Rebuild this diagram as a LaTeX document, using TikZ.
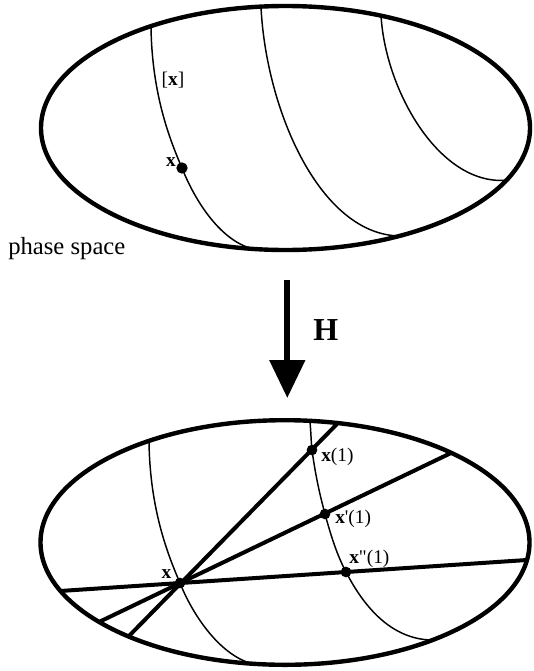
\documentclass[tikz,border=0pt]{standalone}
\usepackage{fontspec}
\setmainfont{Liberation Serif}
\usetikzlibrary{arrows.meta}

\tikzset{
  rim/.style={line width=3.3pt},
  fibre/.style={line width=1.1pt},
  chord/.style={line width=3pt},
  dot/.style={circle, fill=black, inner sep=0pt, minimum size=8pt},
  lbl/.style={font=\fontsize{14.5}{16}\selectfont, inner sep=0pt}
}

\begin{document}
\begin{tikzpicture}[x=0.75pt,y=-0.75pt]
\useasboundingbox (0,0) rectangle (533,671);

\draw[rim] (285.5,128.0) ellipse [x radius=244.5, y radius=122.0];
\node[dot, minimum size=8.5pt] (p) at (182,168) {};
\node[lbl] (plbl) at (171,162.5) {\textbf{x}};
\node[lbl] (cls) at (173,80) {[\textbf{x}]};
\draw[fibre] (151,27) .. controls (152,95) and (170,140) .. (p.center) .. controls (193,196) and (218,240) .. (253,249);
\draw[fibre] (261,7) .. controls (266,110) and (320,235) .. (400,236);
\draw[fibre] (381,15) .. controls (385,90) and (440,188) .. (509,180);
\node[font=\fontsize{18.5}{20}\selectfont, anchor=base west, inner sep=0pt] (ps) at (8,254) {phase space};

\coordinate (htop) at (287.3,280);
\coordinate (hbot) at (287.3,398);
\draw[line width=4.5pt, -{Triangle[width=26pt,length=28.5pt]}] (htop) -- (hbot);
\node[font=\fontsize{24}{26}\selectfont\bfseries, anchor=west, inner sep=0pt] (hmap) at (313,330) {H};

\draw[rim] (285.0,542.5) ellipse [x radius=244.5, y radius=122.3];
\coordinate (a1) at (337,424);
\coordinate (a2) at (128,637);
\coordinate (b1) at (451,453);
\coordinate (b2) at (99,622);
\coordinate (c1) at (527,560);
\coordinate (c2) at (60,591);
\draw[chord] (a2) -- (a1);
\draw[chord] (b2) -- (b1);
\draw[chord] (c2) -- (c1);
\node[dot] (q) at (180,583) {};
\node[dot] (q1) at (312,450) {};
\node[dot] (q2) at (325,514) {};
\node[dot] (q3) at (346,572) {};
\draw[fibre] (149,442) .. controls (150,510) and (168,555) .. (q.center) .. controls (191,611) and (218,655) .. (253,664);
\draw[fibre] (310,422) .. controls (311,432) and (311,441) .. (q1.center) .. controls (315,472) and (319,492) .. (q2.center) .. controls (331,536) and (337,555) .. (q3.center) .. controls (358,595) and (385,640) .. (433,640);
\node[lbl] (qlbl) at (166.5,574) {\textbf{x}};
\node[lbl, anchor=west] (q1lbl) at (321,457) {\textbf{x}(1)};
\node[lbl, anchor=west] (q2lbl) at (335,519) {\textbf{x}\textquotesingle(1)};
\node[lbl, anchor=west] (q3lbl) at (349,559) {\textbf{x}\textquotedbl(1)};
\end{tikzpicture}
\end{document}
